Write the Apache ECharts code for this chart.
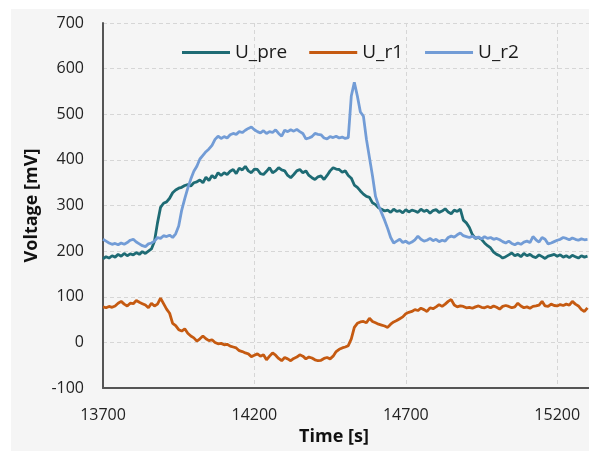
<!DOCTYPE html>
<html>
<head>
<meta charset="utf-8">
<script src="https://cdn.jsdelivr.net/npm/echarts@6/dist/echarts.min.js"></script>
<style>
html,body{margin:0;padding:0;background:#ffffff;}
#chart{width:589px;height:451px;}
</style>
</head>
<body>
<div id="chart"></div>
<script>
const seriesNames = ["U_pre", "U_r1", "U_r2"];
const xTicks = [13700, 14200, 14700, 15200];
const yTicks = [-100, 0, 100, 200, 300, 400, 500, 600, 700];

const time = [
13700,13710,13720,13730,13740,13750,13760,13770,13780,13790,
13800,13810,13820,13830,13840,13850,13860,13870,13880,13890,
13900,13910,13920,13930,13940,13950,13960,13970,13980,13990,
14000,14010,14020,14030,14040,14050,14060,14070,14080,14090,
14100,14110,14120,14130,14140,14150,14160,14170,14180,14190,
14200,14210,14220,14230,14240,14250,14260,14270,14280,14290,
14300,14310,14320,14330,14340,14350,14360,14370,14380,14390,
14400,14410,14420,14430,14440,14450,14460,14470,14480,14490,
14500,14510,14520,14530,14540,14550,14560,14570,14580,14590,
14600,14610,14620,14630,14640,14650,14660,14670,14680,14690,
14700,14710,14720,14730,14740,14750,14760,14770,14780,14790,
14800,14810,14820,14830,14840,14850,14860,14870,14880,14890,
14900,14910,14920,14930,14940,14950,14960,14970,14980,14990,
15000,15010,15020,15030,15040,15050,15060,15070,15080,15090,
15100,15110,15120,15130,15140,15150,15160,15170,15180,15190,
15200,15210,15220,15230,15240,15250,15260,15270,15280,15290,
15300];

const U_pre = [
183,188,185,190,187,193,189,195,190,194,
192,197,193,199,195,200,205,222,262,296,
305,308,316,328,334,338,340,344,346,343,
350,352,356,350,362,355,366,360,372,366,
372,368,375,379,370,382,378,386,376,372,
380,379,370,368,375,383,372,376,383,378,
376,366,361,368,376,379,372,376,366,361,
357,363,365,357,366,376,383,380,379,373,
376,366,360,345,340,332,325,320,318,306,
302,295,292,288,290,285,292,287,289,284,
291,286,290,288,285,292,287,290,283,289,
291,285,288,293,286,282,290,287,292,268,
262,252,236,228,230,226,218,212,207,198,
193,190,185,188,192,196,190,193,188,195,
190,193,188,186,192,188,184,189,191,193,
189,192,187,190,186,191,188,185,190,187,
189];

const U_r1 = [
78,76,79,77,80,86,90,84,80,86,
85,92,88,85,82,76,86,80,84,97,
85,73,64,42,37,28,25,30,20,14,
10,3,8,14,8,4,6,0,-3,-2,
-5,-4,-8,-10,-12,-18,-20,-23,-25,-31,
-28,-25,-30,-27,-38,-30,-23,-28,-35,-40,
-33,-36,-40,-35,-32,-27,-30,-36,-32,-34,
-38,-40,-39,-35,-33,-36,-30,-20,-15,-12,
-10,-7,8,33,42,45,46,43,53,46,
43,40,38,36,33,40,45,48,52,56,
63,66,68,72,70,75,72,68,76,74,
78,83,79,84,90,94,82,78,80,79,
76,77,75,78,80,77,76,79,76,80,
77,73,79,81,79,76,78,86,80,76,
78,75,79,80,82,90,80,79,84,81,
80,83,81,84,82,90,84,80,72,68,
76];

const U_r2 = [
226,222,218,215,217,214,218,215,219,224,
226,220,216,212,210,216,218,222,230,228,
234,232,235,230,238,255,290,315,338,358,
375,386,402,410,418,424,432,445,452,447,
451,448,455,458,456,462,460,465,469,472,
466,462,459,464,458,462,460,466,458,452,
465,462,466,463,467,462,458,446,448,451,
458,456,455,448,446,451,449,452,448,450,
447,449,540,570,540,505,496,445,405,365,
320,300,284,268,250,230,218,222,226,219,
222,217,220,225,233,226,222,224,228,223,
226,221,224,222,230,233,231,236,240,234,
232,230,233,229,231,227,232,228,230,226,
228,225,221,218,222,217,214,218,215,220,
222,219,232,225,220,230,226,216,218,221,
224,226,230,228,225,229,226,224,227,225,
226];

const colors = ["#1e6b74", "#c55a11", "#729cd6"];
const seriesData = [U_pre, U_r1, U_r2];

const FONT = "'Open Sans', 'Noto Sans', sans-serif";

const chart = echarts.init(document.getElementById('chart'), null, {renderer: 'canvas'});
chart.setOption({
  animation: false,
  backgroundColor: '#ffffff',
  textStyle: {fontFamily: FONT},
  graphic: [{
    type: 'rect', left: 11, top: 9, z: -100,
    shape: {width: 578, height: 442},
    style: {fill: '#f5f5f5'}
  }],
  grid: {left: 103, right: 0, top: 23, bottom: 57, containLabel: false},
  legend: {
    left: 177, top: 38,
    icon: 'rect',
    itemWidth: 48, itemHeight: 3, itemGap: 22,
    textStyle: {fontSize: 19, color: '#1a1a1a', fontFamily: FONT},
    data: seriesNames
  },
  xAxis: {
    type: 'value',
    min: xTicks[0], max: 15305, interval: 500,
    name: 'Time [s]', nameLocation: 'middle', nameGap: 31,
    nameTextStyle: {fontSize: 18, fontWeight: 'bold', color: '#111', padding: [0, 24, 0, 0]},
    axisLine: {show: true, onZero: false, lineStyle: {color: '#555', width: 2}},
    axisTick: {show: false},
    axisLabel: {fontSize: 16, color: '#222', margin: 19, showMaxLabel: false,
      formatter: v => String(v)},
    splitLine: {show: true, lineStyle: {color: '#d6d6d6', type: [4, 3], width: 1}}
  },
  yAxis: {
    type: 'value',
    min: yTicks[0], max: yTicks[yTicks.length - 1], interval: 100,
    name: 'Voltage [mV]', nameLocation: 'middle', nameGap: 55,
    nameTextStyle: {fontSize: 18, fontWeight: 'bold', color: '#111'},
    axisLine: {show: true, onZero: false, lineStyle: {color: '#555', width: 2}},
    axisTick: {show: false},
    axisLabel: {fontSize: 16, color: '#222', margin: 19, formatter: v => String(v)},
    splitLine: {show: true, lineStyle: {color: '#d6d6d6', type: [4, 3], width: 1}}
  },
  series: seriesNames.map((name, k) => ({
    name: name,
    type: 'line',
    showSymbol: false,
    symbol: 'none',
    color: colors[k],
    itemStyle: {color: colors[k]},
    lineStyle: {width: 2.8, color: colors[k]},
    data: time.map((t, i) => [t, seriesData[k][i]])
  }))
});
</script>
</body>
</html>
